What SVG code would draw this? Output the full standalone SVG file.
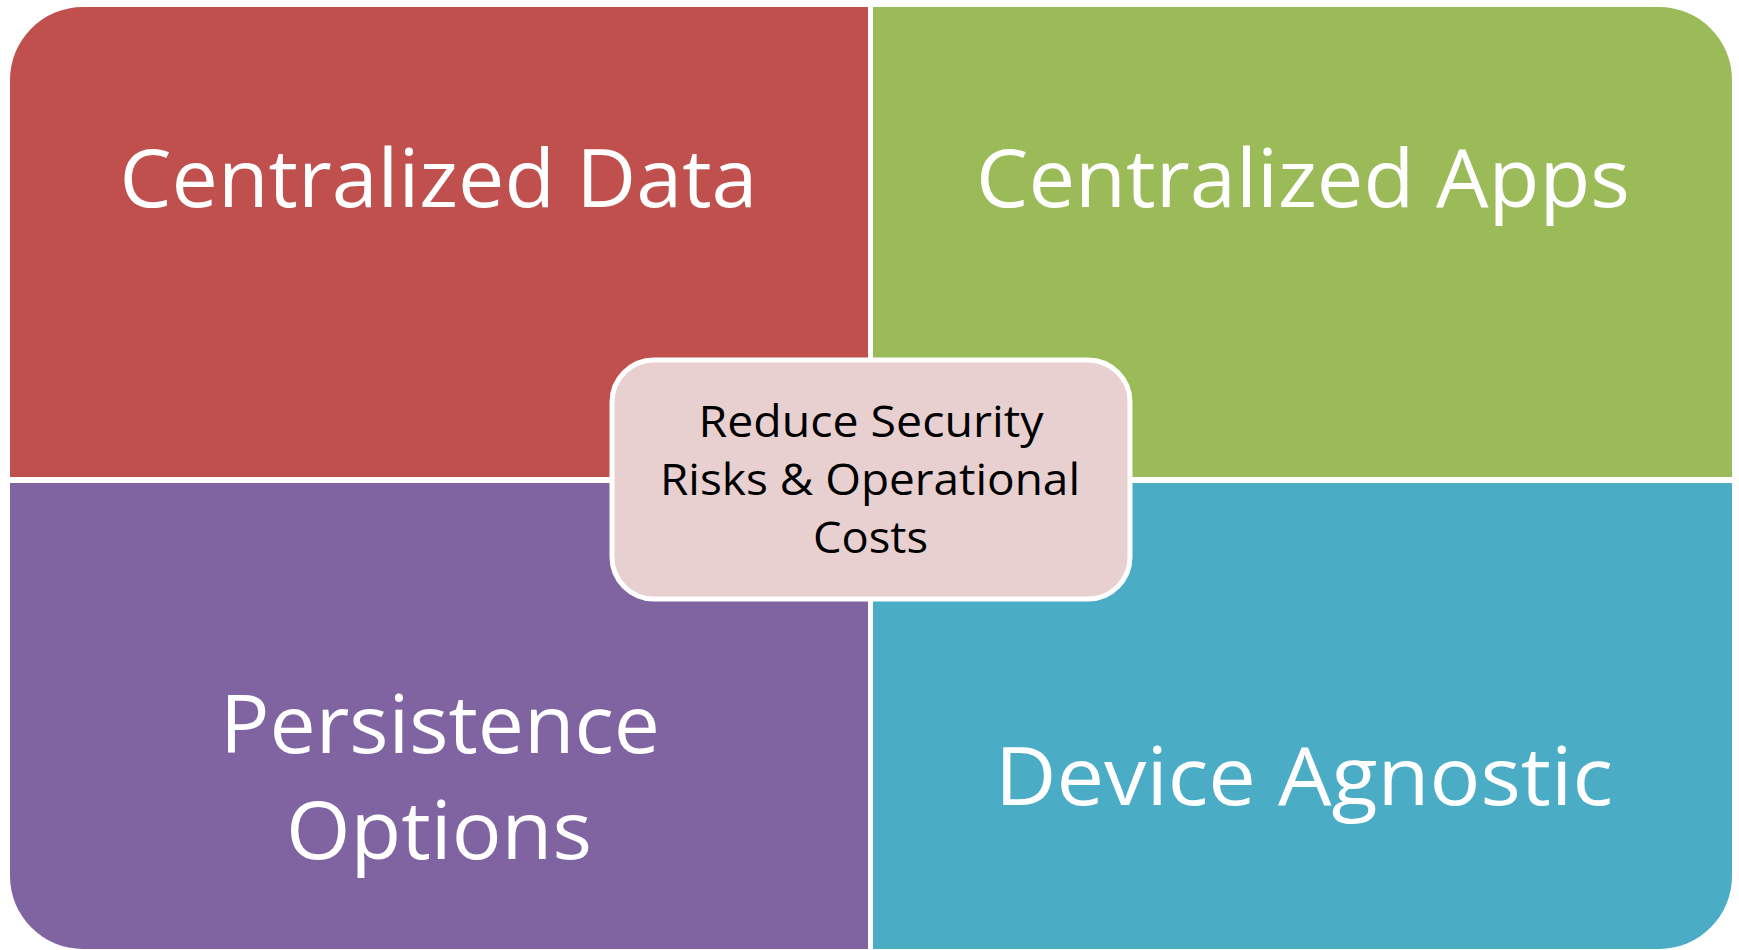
<svg xmlns="http://www.w3.org/2000/svg" width="1739" height="950" viewBox="0 0 1739 950">
<style>
.big{font-family:"Open Sans","Liberation Sans",sans-serif;font-size:81px;fill:#ffffff;text-anchor:middle}
.small{font-family:"Open Sans","Liberation Sans",sans-serif;font-size:44px;fill:#000000;text-anchor:middle}
</style>
<rect width="1739" height="950" fill="#ffffff"/>
<g id="centralized-data">
<path d="M10,80 A73,73 0 0 1 83,7 H868 V477 H10 Z" fill="#C0504D"/>
<text class="big" x="438.5" y="207" textLength="638" lengthAdjust="spacingAndGlyphs">Centralized Data</text>
</g>
<g id="centralized-apps">
<path d="M873,7 H1659 A73,73 0 0 1 1732,80 V477 H873 Z" fill="#9BBB59"/>
<text class="big" x="1303" y="207" textLength="654" lengthAdjust="spacingAndGlyphs">Centralized Apps</text>
</g>
<g id="persistence-options">
<path d="M10,483 H868 V949 H83 A73,73 0 0 1 10,876 Z" fill="#8064A2"/>
<text class="big" x="440" y="753" textLength="440" lengthAdjust="spacingAndGlyphs">Persistence</text>
<text class="big" x="439" y="859" textLength="306" lengthAdjust="spacingAndGlyphs">Options</text>
</g>
<g id="device-agnostic">
<path d="M873,483 H1732 V876 A73,73 0 0 1 1659,949 H873 Z" fill="#4BACC6"/>
<text class="big" x="1304" y="805" textLength="618" lengthAdjust="spacingAndGlyphs">Device Agnostic</text>
</g>
<g id="center">
<rect x="612" y="360" width="518" height="239" rx="42" ry="42" fill="#E8CFD0" stroke="#ffffff" stroke-width="5"/>
<text class="small" x="871" y="437" textLength="345" lengthAdjust="spacingAndGlyphs">Reduce Security</text>
<text class="small" x="870" y="495" textLength="420" lengthAdjust="spacingAndGlyphs">Risks &amp; Operational</text>
<text class="small" x="870.5" y="553" textLength="115" lengthAdjust="spacingAndGlyphs">Costs</text>
</g>
<g id="connectors"></g>
</svg>
